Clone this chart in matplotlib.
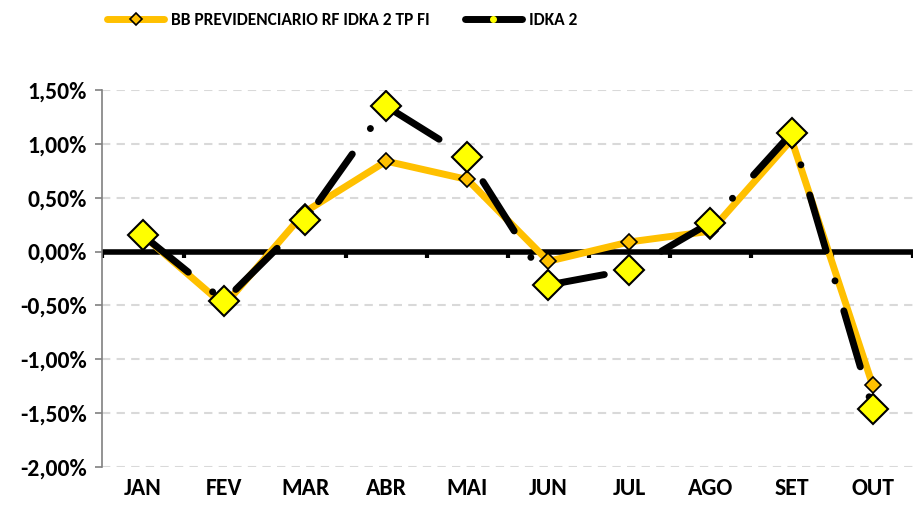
import numpy as np
import matplotlib
matplotlib.use("Agg")
import matplotlib.pyplot as plt
from matplotlib.lines import Line2D
from matplotlib.ticker import FuncFormatter, MultipleLocator

meses = ["JAN", "FEV", "MAR", "ABR", "MAI", "JUN", "JUL", "AGO", "SET", "OUT"]
bb_fundo = [0.15, -0.50, 0.37, 0.84, 0.67, -0.09, 0.09, 0.19, 1.04, -1.24]
idka2 = [0.15, -0.46, 0.29, 1.35, 0.88, -0.31, -0.17, 0.27, 1.10, -1.46]

nome_fundo = "BB PREVIDENCIARIO RF IDKA 2 TP FI"
nome_idka = "IDKA 2"

plt.rcParams["font.family"] = ["Carlito", "DejaVu Sans"]
plt.rcParams["font.weight"] = "bold"

fig = plt.figure(figsize=(9.15, 5.12), dpi=100)
ax = fig.add_axes([0.112, 0.088, 0.886, 0.736])

x = np.arange(len(meses))

# fundo: linha laranja cheia, losangos pequenos
ax.plot(x, bb_fundo, color="#FFC000", lw=5, solid_joinstyle="round",
        marker="D", ms=8, mfc="#FFC000", mec="black", mew=1.2, zorder=3)

# idka: traço-ponto preto grosso
ln, = ax.plot(x, idka2, color="black", lw=5, dash_capstyle="round",
              solid_capstyle="round", zorder=4)
ln.set_dashes([8.4, 4.5, 0.01, 4.5])
ax.plot(x, idka2, ls="none", marker="D", ms=15, mfc="#FFFF00",
        mec="black", mew=1.5, zorder=5)

ax.set_xlim(-0.5, len(meses) - 0.5)
ax.set_ylim(-2.0, 1.5)
ax.yaxis.set_major_locator(MultipleLocator(0.5))
ax.yaxis.set_major_formatter(
    FuncFormatter(lambda v, p: f"{v:.2f}%".replace(".", ",")))
ax.grid(axis="y", color="#D9D9D9", ls=(0, (4, 3)), lw=1.5, zorder=0)

ax.axhline(0, color="black", lw=4, zorder=2)
ax.vlines(np.arange(-0.5, len(meses)), 0, -0.06, color="black", lw=3, zorder=2)

ax.set_xticks(x)
ax.set_xticklabels(meses, fontsize=17, fontweight="bold")
ax.tick_params(axis="x", length=0, pad=8)
ax.tick_params(axis="y", labelsize=17, color="#808080", length=5, width=1.2, pad=6)
for t in ax.get_yticklabels():
    t.set_fontweight("bold")

for s in ["top", "right", "bottom"]:
    ax.spines[s].set_visible(False)
ax.spines["left"].set_color("#808080")
ax.spines["left"].set_linewidth(1.2)

handles = [
    Line2D([], [], color="#FFC000", lw=5, solid_capstyle="round", marker="D",
           ms=6, mfc="#FFC000", mec="black", mew=1.2),
    Line2D([], [], color="black", lw=5, solid_capstyle="round", marker="o",
           ms=4, mfc="#FFFF00", mec="#FFFF00"),
]
fig.legend(handles, [nome_fundo, nome_idka], loc="upper left",
           bbox_to_anchor=(0.117, 0.977), ncol=2, frameon=False,
           borderpad=0, borderaxespad=0,
           prop={"family": ["Carlito", "DejaVu Sans"], "weight": "bold", "size": 12.5},
           handlelength=3.3, columnspacing=2.0, handletextpad=0.4)

fig.savefig("out.png", dpi=100)
